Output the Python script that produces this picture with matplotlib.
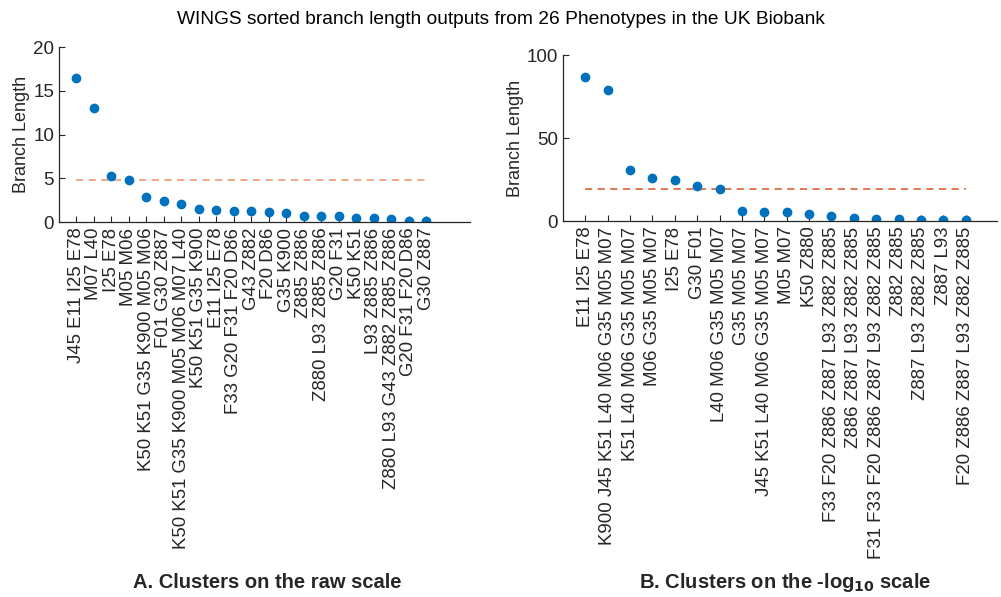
import matplotlib
matplotlib.use('Agg')
import matplotlib.pyplot as plt

plt.rcParams['font.family'] = ['Liberation Sans', 'DejaVu Sans']

# panel A: raw scale
raw_labels = [
    'J45 E11 I25 E78', 'M07 L40', 'I25 E78', 'M05 M06',
    'K50 K51 G35 K900 M05 M06', 'F01 G30 Z887',
    'K50 K51 G35 K900 M05 M06 M07 L40', 'K50 K51 G35 K900',
    'E11 I25 E78', 'F33 G20 F31 F20 D86', 'G43 Z882', 'F20 D86',
    'G35 K900', 'Z885 Z886', 'Z880 L93 Z885 Z886', 'G20 F31', 'K50 K51',
    'L93 Z885 Z886', 'Z880 L93 G43 Z882 Z885 Z886', 'G20 F31 F20 D86',
    'G30 Z887',
]
raw_values = [16.5, 13.0, 5.3, 4.8, 2.9, 2.45, 2.05, 1.5, 1.4, 1.25, 1.25,
              1.15, 1.0, 0.73, 0.73, 0.65, 0.46, 0.46, 0.38, 0.15, 0.08]
raw_threshold = 4.8

# panel B: -log10 scale
log_labels = [
    'E11 I25 E78', 'K900 J45 K51 L40 M06 G35 M05 M07',
    'K51 L40 M06 G35 M05 M07', 'M06 G35 M05 M07', 'I25 E78', 'G30 F01',
    'L40 M06 G35 M05 M07', 'G35 M05 M07', 'J45 K51 L40 M06 G35 M05 M07',
    'M05 M07', 'K50 Z880', 'F33 F20 Z886 Z887 L93 Z882 Z885',
    'Z886 Z887 L93 Z882 Z885', 'F31 F33 F20 Z886 Z887 L93 Z882 Z885',
    'Z882 Z885', 'Z887 L93 Z882 Z885', 'Z887 L93',
    'F20 Z886 Z887 L93 Z882 Z885',
]
log_values = [86.9, 78.7, 30.7, 25.9, 24.5, 21.3, 19.1, 6.0, 5.6, 5.4, 4.2,
              3.2, 1.6, 1.4, 1.2, 0.6, 0.6, 0.4]
log_threshold = 19.1

BLUE = '#0072BD'
DARK = '#262626'

fig = plt.figure(figsize=(10.01, 5.97), dpi=100)
ax1 = fig.add_axes([0.0589, 0.628, 0.4106, 0.293])
ax2 = fig.add_axes([0.5624, 0.6298, 0.4336, 0.278])


def draw(ax, labels, values, thresh, ymax, xmax, line_color):
    xs = list(range(1, len(values) + 1))
    ax.plot([1, len(values)], [thresh, thresh], ls=(0, (4, 3)), lw=1.3, color=line_color, zorder=1)
    ax.plot(xs, values, 'o', ms=6, color=BLUE, mec=BLUE, zorder=2)
    ax.set_xlim(0, xmax)
    ax.set_ylim(0, ymax)
    ax.set_xticks(xs)
    ax.set_xticklabels(labels, rotation=90, fontsize=13.4, color=DARK)
    ax.tick_params(axis='both', direction='in', length=4, color=DARK, labelcolor=DARK)
    ax.tick_params(axis='y', labelsize=13.5)
    ax.tick_params(axis='x', pad=4)
    for s in ('top', 'right'):
        ax.spines[s].set_visible(False)
    for s in ('left', 'bottom'):
        ax.spines[s].set_color(DARK)
        ax.spines[s].set_linewidth(0.9)
    ax.set_ylabel('Branch Length', fontsize=13, color=DARK, labelpad=2)


draw(ax1, raw_labels, raw_values, raw_threshold, 20, 23.5, '#EFA27F')
ax1.set_yticks([0, 5, 10, 15, 20])
draw(ax2, log_labels, log_values, log_threshold, 100, 19.4, '#DE6E45')
ax2.set_yticks([0, 50, 100])

fig.text(0.5, 0.968, 'WINGS sorted branch length outputs from 26 Phenotypes in the UK Biobank',
         ha='center', va='center', fontsize=13.8)
fig.text(0.267, 0.025, 'A. Clusters on the raw scale', ha='center', va='center',
         fontsize=14.5, fontweight='bold', color=DARK)
fig.text(0.784, 0.025, r'B. Clusters on the -log$_{\mathbf{10}}$ scale', ha='center', va='center',
         fontsize=14.5, fontweight='bold', color=DARK)

fig.savefig('out.png', dpi=100)
